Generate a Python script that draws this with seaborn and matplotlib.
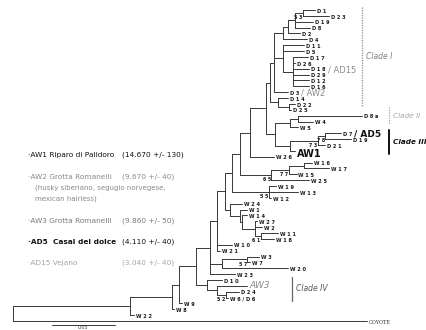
import matplotlib
matplotlib.use("Agg")
import matplotlib.pyplot as plt
import matplotlib.transforms as mtransforms
import numpy as np
import pandas as pd
import seaborn as sns

# ---- tree data (Newick pieces, branch lengths in substitutions/site) ----
clade_I = ("((((((D1:0.010,D23:0.021)53:0.006,D19:0.014,D8:0.012):0.006,D2:0.010):0.004,D4:0.019):0.007,"
           "(D11:0.017,D5:0.017,(D17:0.012,D26:0.002,D18:0.013,D29:0.013,D12:0.013,D16:0.013):0.008):0.007,"
           "D3:0.011):0.003,(D14:0.008,(D22:0.005,D25:0.002):0.009):0.006)")
clade_II_III = ("(((D8a:0.051,W4:0.012):0.006,W5:0.006):0.012,"
                "(((D7:0.012,D19:0.020)78:0.006,D21:0.006)73:0.022,AW1:0.004):0.012)")
w_group_a = "(((W16:0.006,W17:0.020):0.012,W15:0.006)77:0.014,W25:0.030)65"
w_group_b = "(W19:0.006,W13:0.023,W12:0.002)55"
w_group_c = "(W24:0.010,(W1:0.006,(W14:0.004,(W27:0.002,W2:0.006,(W11:0.013,W18:0.010)61:0.005):0.010):0.002):0.008)"
w_group_d = "((W3:0.009,W7:0.002)57:0.020,W20:0.052)"
clade_IV = "(D10:0.012,(AW3:0.024,(D24:0.010,W6/D6:0.002)52:0.007):0.008)"

# backbone, from the crown down to the outgroup
b1 = f"({clade_I}:0.003,{clade_II_III}:0.007)"
b2 = f"({b1}:0.013,W26:0.019)"
b3 = f"({b2}:0.008,{w_group_a}:0.025)"
b4 = f"({b3}:0.006,{w_group_b}:0.029)"
b5 = f"({b4}:0.006,{w_group_c}:0.004)"
b6 = f"({b5}:0.006,W10:0.012,W21:0.002)"
b7 = f"({b6}:0.006,{w_group_d}:0.010,W23:0.020)"
b8 = f"({b7}:0.011,{clade_IV}:0.009)"
b9 = f"(({b8}:0.013,W9:0.002):0.006,W8:0.002)"
tree_newick = f"(({b9}:0.033,W22:0.003):0.093,COYOTE:0.281)"

# tip annotations (ancient samples sharing a haplotype)
shared_tips = ["D18", "D3", "D7"]
shared_samples = ["AD15", "AW2", "AD5"]
shared_colors = ["#8c8c8c", "#8c8c8c", "#111111"]

# clades
clade_names = ["Clade I", "Clade II", "Clade III", "Clade IV"]
clade_first = ["D1", "D25", "D7", "D10"]
clade_last = ["D22", "W4", "AW1", "W6/D6"]

# legend on the left
legend_sites = ["AW1 Riparo di Palidoro", "AW2 Grotta Romanelli", "AW3 Grotta Romanelli",
                "AD5  Casal del dolce", "AD15 Vejano"]
legend_dates = ["(14.670 +/- 130)", "(9.670 +/- 40)", "(9.860 +/- 50)",
                "(4.110 +/- 40)", "(3.040 +/- 40)"]
legend_note = ["(husky siberiano, segugio norvegese,", "mexican hairless)"]

scale_length = 0.05


def parse_newick(s):
    pos = 0

    def node():
        nonlocal pos
        children = []
        if s[pos] == "(":
            pos += 1
            while True:
                children.append(node())
                if s[pos] == ",":
                    pos += 1
                    continue
                pos += 1
                break
        start = pos
        while pos < len(s) and s[pos] not in ",):":
            pos += 1
        name = s[start:pos]
        length = 0.0
        if pos < len(s) and s[pos] == ":":
            pos += 1
            start = pos
            while pos < len(s) and s[pos] not in ",)":
                pos += 1
            length = float(s[start:pos])
        return {"name": name, "len": length, "children": children}

    return node()


def layout(n, x0, leaves, segs, internals):
    """Rectangular cladogram: x = cumulative branch length, y = leaf rank."""
    n["x"] = x0 + n["len"]
    if not n["children"]:
        n["y"] = len(leaves)
        leaves.append(n)
    else:
        for c in n["children"]:
            layout(c, n["x"], leaves, segs, internals)
        n["y"] = (n["children"][0]["y"] + n["children"][-1]["y"]) / 2
        segs.append([(n["x"], n["children"][0]["y"]), (n["x"], n["children"][-1]["y"])])
        internals.append(n)
    if n["len"] > 0:
        segs.append([(x0, n["y"]), (n["x"], n["y"])])


root = parse_newick(tree_newick)
leaves, segs, internals = [], [], []
layout(root, 0.0, leaves, segs, internals)

rows = []
for i, seg in enumerate(segs):
    for (x, y) in seg:
        rows.append({"seg": i, "x": x, "y": y})
seg_df = pd.DataFrame(rows)
leaf_y = {}
for lf in leaves:
    leaf_y.setdefault(lf["name"], lf["y"])

# ---- figure ----
sns.set_theme(style="white")
plt.rcParams["font.family"] = ["DejaVu Sans"]

W, H = 427, 330
fig = plt.figure(figsize=(W / 100, H / 100), dpi=100)
ax = fig.add_axes([0, 0, 1, 1])

px_per_unit = 1260.0
row_px, top_px, root_px = 5.87, 10.0, 13.0
line_col = "#383838"

sns.lineplot(data=seg_df, x="x", y="y", units="seg", estimator=None, sort=False,
             color=line_col, linewidth=0.7, ax=ax, legend=False)
ax.set_xlim(-root_px / px_per_unit, (W - root_px) / px_per_unit)
ax.set_ylim((H - top_px) / row_px, -top_px / row_px)
ax.axis("off")

dx = 2.0 / px_per_unit
for lf in leaves:
    name = lf["name"]
    x, y = lf["x"] + dx, lf["y"] + 0.2
    if name == "AW1":
        ax.text(x, y + 0.3, "AW1", fontsize=7, fontweight="bold", color="#111111", va="center")
    elif name == "AW3":
        ax.text(x, y - 0.2, "AW3", fontsize=6.5, style="italic", color="#8c8c8c", va="center")
    elif name == "COYOTE":
        ax.text(x, y, "COYOTE", fontsize=3.6, color="#333333", va="center", family="DejaVu Serif")
    else:
        t = ax.text(x, y, " ".join(name), fontsize=3.6, fontweight="bold", color="#1a1a1a", va="center")
        if name in shared_tips and lf["y"] == leaf_y[name]:
            k = shared_tips.index(name)
            ax.annotate("/ " + shared_samples[k], xy=(1, 0.5), xycoords=t, xytext=(1.5, 0),
                        textcoords="offset points", va="center", ha="left",
                        fontsize=6 if k < 2 else 6.5, color=shared_colors[k],
                        fontweight="normal" if k < 2 else "bold")

# bootstrap values
for n in internals:
    if n["name"]:
        ax.text(n["x"] - 0.5 / px_per_unit, n["y"] + 0.8, " ".join(n["name"]),
                fontsize=3.4, fontweight="bold", color="#1a1a1a", ha="right", va="center")

# clade bars
bar_x = [362, 389, 389, 292]
bar_style = [dict(color="#8a8a8a", lw=0.9, ls=(0, (1, 1))),
             dict(color="#a0a0a0", lw=0.9, ls=(0, (1, 1))),
             dict(color="#111111", lw=1.4, ls="-"),
             dict(color="#666666", lw=0.9, ls="-")]
label_style = [dict(color="#808080", fontsize=5.5), dict(color="#a8a8a8", fontsize=5.2),
               dict(color="#111111", fontweight="bold", fontsize=5.2),
               dict(color="#555555", fontsize=5.5)]
for k, cname in enumerate(clade_names):
    y0, y1 = leaf_y[clade_first[k]] - 0.5, leaf_y[clade_last[k]] + 0.5
    xb = (bar_x[k] - root_px) / px_per_unit
    ax.plot([xb, xb], [y0, y1], **bar_style[k])
    ax.text(xb + 4 / px_per_unit, (y0 + y1) / 2, cname, style="italic",
            va="center", ha="left", **label_style[k])

# legend text on the left
def fpos(xp, yp):
    return xp / W, 1 - yp / H

legend_y = [155, 177, 221, 242, 263]
legend_col = ["#111111", "#8a8a8a", "#7a7a7a", "#111111", "#a5a5a5"]
legend_w = ["normal", "normal", "normal", "bold", "normal"]
for k in range(len(legend_sites)):
    fig.text(*fpos(28, legend_y[k]), "\u00b7" + legend_sites[k], fontsize=5.3,
             color=legend_col[k], fontweight=legend_w[k], va="center")
    fig.text(*fpos(122, legend_y[k]), legend_dates[k], fontsize=5.3,
             color=legend_col[k], va="center")
for j, line in enumerate(legend_note):
    fig.text(*fpos(35, 188 + 11 * j), line, fontsize=5.0, color="#8a8a8a", va="center")

# scale bar
trans = mtransforms.blended_transform_factory(ax.transData, fig.transFigure)
sx0 = (52 - root_px) / px_per_unit
ax.plot([sx0, sx0 + scale_length], [1 - 324.5 / H] * 2, color=line_col, lw=0.7, transform=trans)
ax.text(sx0 + scale_length / 2, 0.0, f"{scale_length:.2f}", fontsize=3.4, ha="center",
        va="bottom", color=line_col, transform=trans)

fig.savefig("out.png", dpi=100)
